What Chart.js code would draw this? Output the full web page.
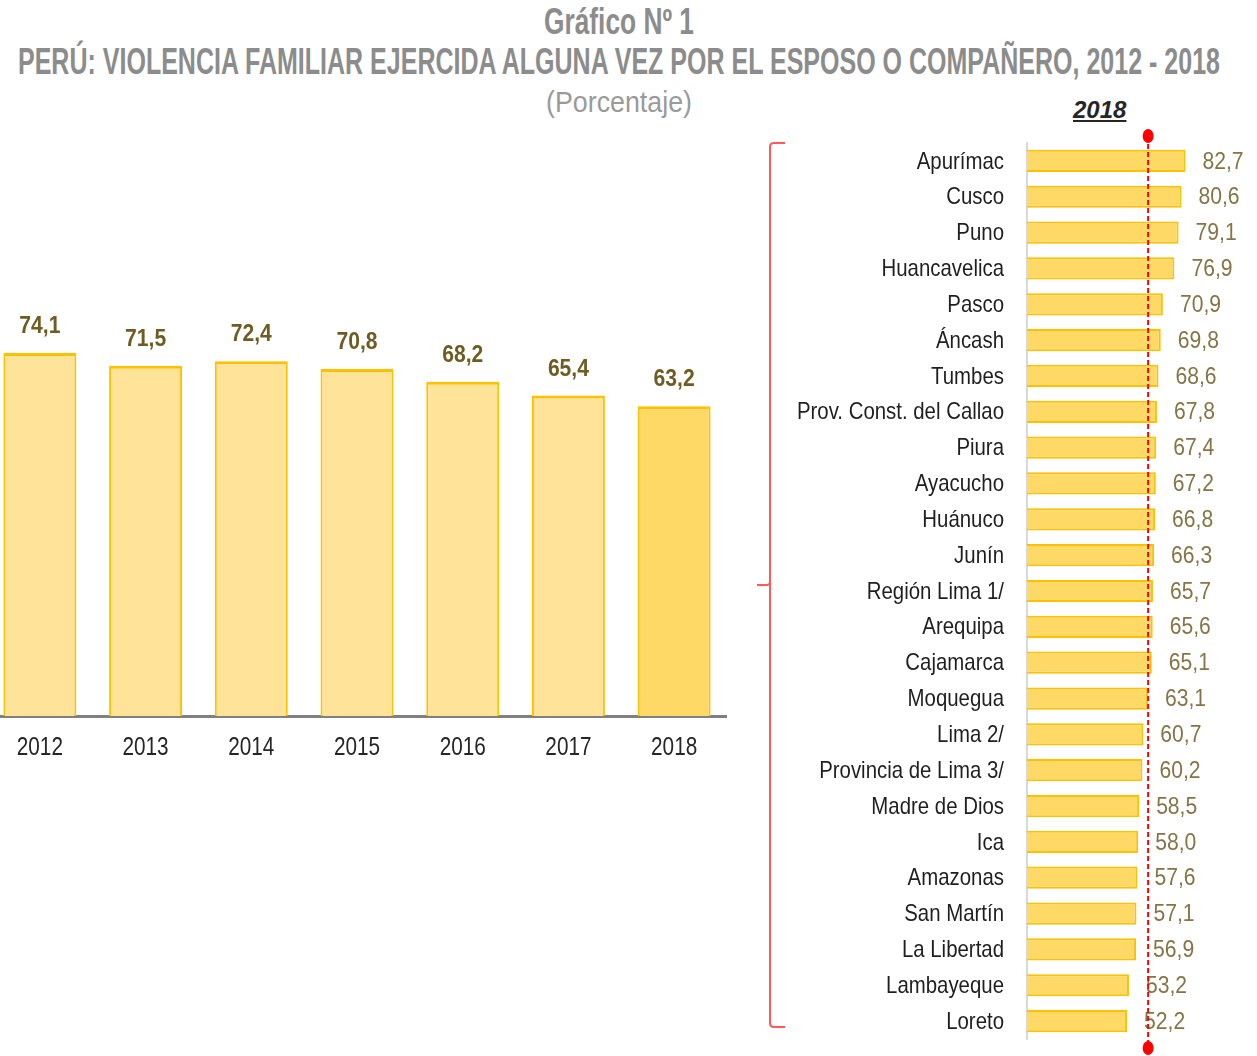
<!DOCTYPE html>
<html>
<head>
<meta charset="utf-8">
<script src="https://cdn.jsdelivr.net/npm/chart.js@4.4.1/dist/chart.umd.min.js"></script>
<style>
    body { margin: 0; width: 1257px; height: 1056px; overflow: hidden; background: #fff; position: relative; }
    .t { position: absolute; left: 619px; white-space: nowrap; color: #8c8c8c; transform-origin: center; }
    #t1 { top: 1px; font: bold 36px "Liberation Sans", Arial, sans-serif; }
    #t2 { top: 41px; font: bold 37px "Liberation Sans", Arial, sans-serif; }
    #t3 { top: 86px; font: 29px "Liberation Sans", Arial, sans-serif; color: #9a9a9a; }
    #yearTag { position: absolute; left: 1073px; top: 96px; font: italic bold 24px "Liberation Sans", Arial, sans-serif; color: #262626; text-decoration: underline; }
    #leftWrap { position: absolute; left: -13px; top: 200px; width: 740px; height: 580px; }
    #rightWrap { position: absolute; left: 750px; top: 120px; width: 507px; height: 936px; }
</style>
</head>
<body>
<div class="t" id="t1">Gráfico Nº 1</div>
<div class="t" id="t2">PERÚ: VIOLENCIA FAMILIAR EJERCIDA ALGUNA VEZ POR EL ESPOSO O COMPAÑERO, 2012 - 2018</div>
<div class="t" id="t3">(Porcentaje)</div>
<div id="yearTag">2018</div>
<div id="leftWrap"><canvas id="yearChart"></canvas></div>
<div id="rightWrap"><canvas id="regionChart"></canvas></div>
<script>
// ===== Data =====
const years = ['2012', '2013', '2014', '2015', '2016', '2017', '2018'];
const yearValues = [74.1, 71.5, 72.4, 70.8, 68.2, 65.4, 63.2];

const regions = ['Apurímac', 'Cusco', 'Puno', 'Huancavelica', 'Pasco', 'Áncash', 'Tumbes',
    'Prov. Const. del Callao', 'Piura', 'Ayacucho', 'Huánuco', 'Junín', 'Región Lima 1/',
    'Arequipa', 'Cajamarca', 'Moquegua', 'Lima 2/', 'Provincia de Lima 3/', 'Madre de Dios',
    'Ica', 'Amazonas', 'San Martín', 'La Libertad', 'Lambayeque', 'Loreto'];
const regionValues = [82.7, 80.6, 79.1, 76.9, 70.9, 69.8, 68.6, 67.8, 67.4, 67.2, 66.8, 66.3, 65.7,
    65.6, 65.1, 63.1, 60.7, 60.2, 58.5, 58.0, 57.6, 57.1, 56.9, 53.2, 52.2];
const nationalAvg = 63.2;

const fmt = v => v.toFixed(1).replace('.', ',');
const FAMILY = '"Liberation Sans", Arial, sans-serif';

// ===== Squeeze titles to the condensed look =====
[['t1', 150], ['t2', 1202], ['t3', 146]].forEach(([id, w]) => {
    const el = document.getElementById(id);
    const s = w / el.getBoundingClientRect().width;
    el.style.transform = 'translateX(-50%) scaleX(' + s + ')';
});

// narrow text helper (Arial Narrow look)
function narrowText(ctx, text, x, y, o) {
    ctx.save();
    ctx.translate(x, y);
    ctx.scale(o.squeeze, 1);
    ctx.font = o.font;
    ctx.fillStyle = o.color;
    ctx.textAlign = o.align;
    ctx.textBaseline = o.baseline;
    ctx.fillText(text, 0, 0);
    ctx.restore();
}

// ===== Labels plugin: category labels + value labels =====
const narrowLabels = {
    id: 'narrowLabels',
    afterDatasetsDraw(chart, args, opts) {
        const { ctx, chartArea } = chart;
        const meta = chart.getDatasetMeta(0);
        meta.data.forEach((bar, i) => {
            const txt = fmt(chart.data.datasets[0].data[i]);
            const cat = chart.data.labels[i];
            if (opts.horizontal) {
                narrowText(ctx, cat, chartArea.left - 23, bar.y + 1,
                    { font: '24px ' + FAMILY, color: '#1f1f1f', align: 'right', baseline: 'middle', squeeze: 0.85 });
                narrowText(ctx, txt, bar.x + 17, bar.y + 1,
                    { font: '24px ' + FAMILY, color: '#857546', align: 'left', baseline: 'middle', squeeze: 0.88 });
            } else {
                narrowText(ctx, txt, bar.x, bar.y - 20,
                    { font: 'bold 24px ' + FAMILY, color: '#6e5c22', align: 'center', baseline: 'alphabetic', squeeze: 0.88 });
                narrowText(ctx, cat, bar.x, chartArea.bottom + 39,
                    { font: '25px ' + FAMILY, color: '#262626', align: 'center', baseline: 'alphabetic', squeeze: 0.83 });
            }
        });
    }
};

// ===== Average line + bracket plugin =====
const avgLine = {
    id: 'avgLine',
    afterDatasetsDraw(chart) {
        const { ctx, chartArea, scales } = chart;
        const x = scales.x.getPixelForValue(nationalAvg);
        const top = chartArea.top - 7;
        const bottom = chartArea.bottom + 9;
        ctx.save();
        ctx.strokeStyle = '#ff0000';
        ctx.lineWidth = 2;
        ctx.setLineDash([5, 3]);
        ctx.beginPath();
        ctx.moveTo(x, top);
        ctx.lineTo(x, bottom);
        ctx.stroke();
        ctx.setLineDash([]);
        ctx.fillStyle = '#ff0000';
        [top, bottom].forEach(y => {
            ctx.beginPath();
            ctx.ellipse(x, y, 5.5, 7, 0, 0, Math.PI * 2);
            ctx.fill();
        });

        // bracket
        const bx = 20, by1 = chartArea.top, by2 = chartArea.bottom - 12;
        const mid = (by1 + by2) / 2;
        ctx.strokeStyle = '#ff5a5a';
        ctx.lineWidth = 2;
        ctx.beginPath();
        ctx.moveTo(bx + 15, by1);
        ctx.lineTo(bx + 4, by1);
        ctx.quadraticCurveTo(bx, by1, bx, by1 + 4);
        ctx.lineTo(bx, by2 - 4);
        ctx.quadraticCurveTo(bx, by2, bx + 4, by2);
        ctx.lineTo(bx + 15, by2);
        ctx.moveTo(bx, mid - 3);
        ctx.quadraticCurveTo(bx, mid, bx - 4, mid);
        ctx.lineTo(bx - 13, mid);
        ctx.stroke();
        ctx.restore();
    }
};

// ===== Left chart: 2012 - 2018 =====
const ctx1 = document.getElementById('yearChart').getContext('2d');
const yearChart = new Chart(ctx1, {
    type: 'bar',
    data: {
        labels: years,
        datasets: [{
            data: yearValues,
            backgroundColor: years.map((y, i) => i === years.length - 1 ? '#ffd966' : '#ffe399'),
            borderColor: '#ffc000',
            borderWidth: { top: 3, left: 2, right: 2, bottom: 0 },
            borderSkipped: false,
            categoryPercentage: 0.69,
            barPercentage: 1
        }]
    },
    options: {
        responsive: true,
        maintainAspectRatio: false,
        animation: false,
        layout: { padding: { top: 26, left: 0, right: 0, bottom: 0 } },
        plugins: {
            legend: { display: false },
            tooltip: { enabled: false },
            narrowLabels: { horizontal: false }
        },
        scales: {
            x: {
                grid: { display: false, drawTicks: false },
                border: { display: true, color: '#808080', width: 3 },
                ticks: { display: false },
                afterFit(scale) { scale.height = 64; }
            },
            y: {
                display: false,
                min: 0,
                max: 100
            }
        }
    },
    plugins: [narrowLabels]
});

// ===== Right chart: regions 2018 =====
const ctx2 = document.getElementById('regionChart').getContext('2d');
const regionChart = new Chart(ctx2, {
    type: 'bar',
    data: {
        labels: regions,
        datasets: [{
            data: regionValues,
            backgroundColor: '#ffd966',
            borderColor: '#ffc000',
            borderWidth: 2,
            borderSkipped: 'left',
            categoryPercentage: 0.62,
            barPercentage: 1
        }]
    },
    options: {
        indexAxis: 'y',
        responsive: true,
        maintainAspectRatio: false,
        animation: false,
        layout: { padding: { top: 23, bottom: 17, left: 0, right: 0 } },
        plugins: {
            legend: { display: false },
            tooltip: { enabled: false },
            narrowLabels: { horizontal: true }
        },
        scales: {
            x: {
                display: false,
                min: 0,
                max: 120
            },
            y: {
                grid: { display: false, drawTicks: false },
                border: { display: true, color: '#d9d9d9', width: 2 },
                ticks: { display: false },
                afterFit(scale) { scale.width = 277; }
            }
        }
    },
    plugins: [narrowLabels, avgLine]
});
</script>
</body>
</html>
